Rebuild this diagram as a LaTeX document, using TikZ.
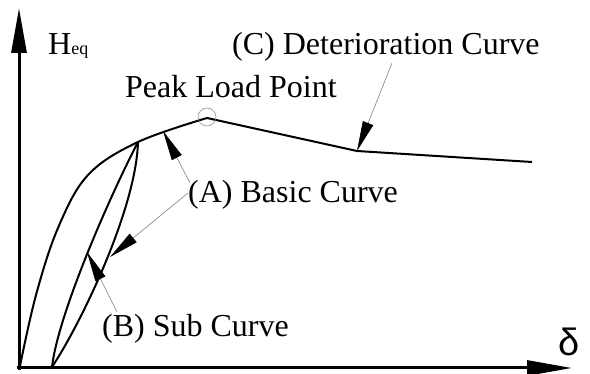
\documentclass[tikz,border=0pt]{standalone}
\usepackage{fontspec}
\setmainfont{Liberation Serif}
\newfontfamily\deltafont{Liberation Sans}
\usetikzlibrary{arrows.meta}
\tikzset{
  axisline/.style={line width=3pt,-{Triangle[length=45pt,width=15pt]}},
  curveline/.style={line width=2pt,line join=round},
  ptr/.style={draw=gray,line width=0.6pt,-{Triangle[length=30pt,width=11pt,color=black]}},
  lbl/.style={anchor=base west,inner sep=0pt,font=\fontsize{32}{38}\selectfont},
}
\begin{document}
\begin{tikzpicture}[x=1pt,y=-1pt]
\useasboundingbox (0,0) rectangle (590,374);
% axes
\coordinate (O) at (19,368);
\coordinate (ytop) at (19,8);
\coordinate (xend) at (572,368);
\draw[axisline] (19,370) -- (ytop);
\draw[axisline] (17,368) -- (xend);
% basic curve
\coordinate (peak) at (207,118);
\coordinate (V) at (138,142);
\coordinate (D) at (357,151);
\coordinate (E) at (532,162);
\coordinate (S) at (52,367);
\draw[curveline] plot[smooth,tension=0.6] coordinates {(20,366) (36,295) (58,228) (88,175) (138,142) (207,118)};
\draw[curveline] (peak) -- (D) -- (E);
% sub curves
\draw[curveline] (V) .. controls (108,200) and (58,315) .. (S);
\draw[curveline] (S) .. controls (80,325) and (136,210) .. (V);
% peak circle
\node[draw=gray,line width=0.5pt,circle,minimum size=18pt,inner sep=0pt] (pc) at (207,117) {};
% labels
\node[lbl] (heq) at (48,55) {H{\fontsize{18}{20}\selectfont eq}};
\node[lbl] (plp) at (125,98) {Peak Load Point};
\node[lbl] (lc) at (232,55) {(C) Deterioration Curve};
\node[lbl] (la) at (188,203) {(A) Basic Curve};
\node[lbl] (lb) at (102,337) {(B) Sub Curve};
\node[inner sep=0pt,font=\deltafont\fontsize{38}{40}\selectfont] (dl) at (569,342) {δ};
% pointer arrows
\coordinate (c0) at (392,63);
\coordinate (a1s) at (190,183);
\coordinate (a1t) at (163,131);
\coordinate (a2s) at (188,193);
\coordinate (a2t) at (110,257);
\coordinate (b0) at (117,312);
\coordinate (bt) at (87,252);
\draw[ptr] (c0) -- (D);
\draw[ptr] (a1s) -- (a1t);
\draw[ptr] (a2s) -- (a2t);
\draw[ptr] (b0) -- (bt);
\end{tikzpicture}
\end{document}
